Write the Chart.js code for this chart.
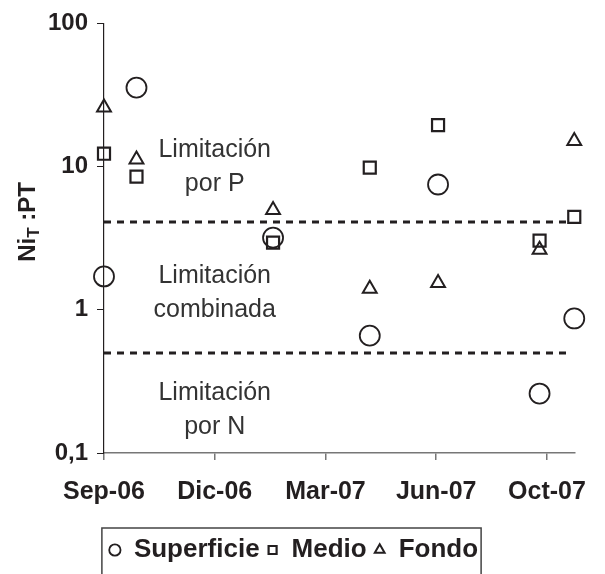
<!DOCTYPE html>
<html>
<head>
<meta charset="utf-8">
<script src="https://cdn.jsdelivr.net/npm/chart.js@4.4.1/dist/chart.umd.min.js"></script>
<style>
  html, body { margin: 0; padding: 0; background: #fff; }
</style>
</head>
<body>
<canvas id="chart" width="605" height="574"></canvas>
<script>
// Eje X: meses desde Sep-06
const xTickValues = [0, 3, 6, 9, 12];
const xTickLabels = ['Sep-06', 'Dic-06', 'Mar-07', 'Jun-07', 'Oct-07'];
const yTickValues = [0.1, 1, 10, 100];
const yTickLabels = ['0,1', '1', '10', '100'];

// Fechas de muestreo (meses desde Sep-06)
const muestreos = [0, 0.88, 4.58, 7.2, 9.05, 11.8, 12.74];
const superficie = [1.71, 35.6, 3.19, 0.66, 7.5, 0.26, 0.87];
const medio = [12.3, 8.5, 2.94, 9.84, 19.5, 3.04, 4.45];
const fondo = [25.9, 11.2, 4.97, 1.40, 1.54, 2.63, 15.1];

// Umbrales de limitación
const limiteP = 4.1;
const limiteN = 0.5;
const limiteX = [0, 12.62];

const zonas = [
    { lineas: ['Limitación', 'por P'], y: 10.3 },
    { lineas: ['Limitación', 'combinada'], y: 1.35 },
    { lineas: ['Limitación', 'por N'], y: 0.207 }
];

const FONT = '"Liberation Sans", Arial, sans-serif';
const INK = '#231f20';

const puntos = vals => vals.map((v, i) => ({ x: muestreos[i], y: v }));
const umbral = v => limiteX.map(x => ({ x: x, y: v }));

const extras = {
    id: 'extras',
    afterDraw(chart) {
        const ctx = chart.ctx;
        const xs = chart.scales.x, ys = chart.scales.y;
        ctx.save();
        // textos de zonas
        ctx.fillStyle = '#333';
        ctx.font = '25px ' + FONT;
        ctx.textAlign = 'center';
        ctx.textBaseline = 'alphabetic';
        zonas.forEach(z => {
            const cx = xs.getPixelForValue(3);
            const cy = ys.getPixelForValue(z.y);
            ctx.fillText(z.lineas[0], cx, cy - 8);
            ctx.fillText(z.lineas[1], cx, cy + 26);
        });
        // título del eje Y con subíndice
        ctx.fillStyle = INK;
        ctx.translate(35, 222);
        ctx.rotate(-Math.PI / 2);
        ctx.textAlign = 'left';
        const big = 'bold 24px ' + FONT, small = 'bold 17px ' + FONT;
        ctx.font = big;
        const w1 = ctx.measureText('Ni').width;
        const w3 = ctx.measureText(' :PT').width;
        ctx.font = small;
        const w2 = ctx.measureText('T').width;
        let x = -(w1 + w2 + w3) / 2;
        ctx.font = big;
        ctx.fillText('Ni', x, 0);
        x += w1;
        ctx.font = small;
        ctx.fillText('T', x, 4);
        x += w2;
        ctx.font = big;
        ctx.fillText(' :PT', x, 0);
        ctx.restore();

        // recuadro de la leyenda
        const hb = chart.legend.legendHitBoxes;
        if (hb && hb.length) {
            const l = hb[0].left - 7;
            const r = hb[hb.length - 1].left + hb[hb.length - 1].width + 3;
            const t = hb[0].top - 9;
            ctx.save();
            ctx.strokeStyle = '#444';
            ctx.lineWidth = 1.5;
            ctx.beginPath();
            ctx.moveTo(l, chart.height + 5);
            ctx.lineTo(l, t);
            ctx.lineTo(r, t);
            ctx.lineTo(r, chart.height + 5);
            ctx.stroke();
            ctx.restore();
        }
    }
};

const serie = (label, vals, style, radius, width) => ({
    label: label,
    data: puntos(vals),
    pointStyle: style,
    pointRadius: radius,
    borderWidth: width,
    borderColor: INK,
    backgroundColor: 'rgba(255,255,255,0)',
    clip: false
});

const linea = (label, v) => ({
    type: 'line',
    label: label,
    data: umbral(v),
    borderColor: INK,
    borderWidth: 3,
    borderDash: [7, 6],
    pointRadius: 0,
    clip: false
});

new Chart(document.getElementById('chart'), {
    type: 'scatter',
    data: {
        datasets: [
            serie('Superficie', superficie, 'circle', 10, 1.8),
            serie('Medio', medio, 'rect', 8.5, 2.2),
            serie('Fondo', fondo, 'triangle', 8, 2),
            linea('umbralP', limiteP),
            linea('umbralN', limiteN)
        ]
    },
    options: {
        responsive: false,
        animation: false,
        layout: { padding: { left: 12, right: 30, top: 19, bottom: 1 } },
        plugins: {
            tooltip: { enabled: false },
            legend: {
                position: 'bottom',
                labels: {
                    usePointStyle: true,
                    boxWidth: 12,
                    boxHeight: 8,
                    padding: 7,
                    color: INK,
                    font: { family: FONT, size: 26, weight: 'bold' },
                    filter: item => item.text.indexOf('umbral') !== 0
                }
            }
        },
        scales: {
            x: {
                type: 'linear',
                min: 0,
                max: 12.76,
                afterBuildTicks: s => { s.ticks = xTickValues.map(v => ({ value: v })); },
                afterFit: s => { s.height = 77; },
                grid: { drawOnChartArea: false, drawTicks: true, tickLength: 7, color: '#777', lineWidth: 1.5 },
                border: { color: '#777', width: 1.5 },
                ticks: {
                    color: INK,
                    padding: 17,
                    maxRotation: 0,
                    font: { family: FONT, size: 25, weight: 'bold' },
                    callback: v => xTickLabels[xTickValues.indexOf(v)]
                }
            },
            y: {
                type: 'logarithmic',
                min: 0.1,
                max: 100,
                afterBuildTicks: s => { s.ticks = yTickValues.map(v => ({ value: v })); },
                afterFit: s => { s.width = 92; },
                grid: { drawOnChartArea: false, drawTicks: true, tickLength: 7, color: INK, lineWidth: 1 },
                border: { color: INK, width: 1.2 },
                ticks: {
                    color: INK,
                    padding: 9,
                    font: { family: FONT, size: 24, weight: 'bold' },
                    callback: v => yTickLabels[yTickValues.indexOf(v)]
                }
            }
        }
    },
    plugins: [extras]
});
</script>
</body>
</html>
